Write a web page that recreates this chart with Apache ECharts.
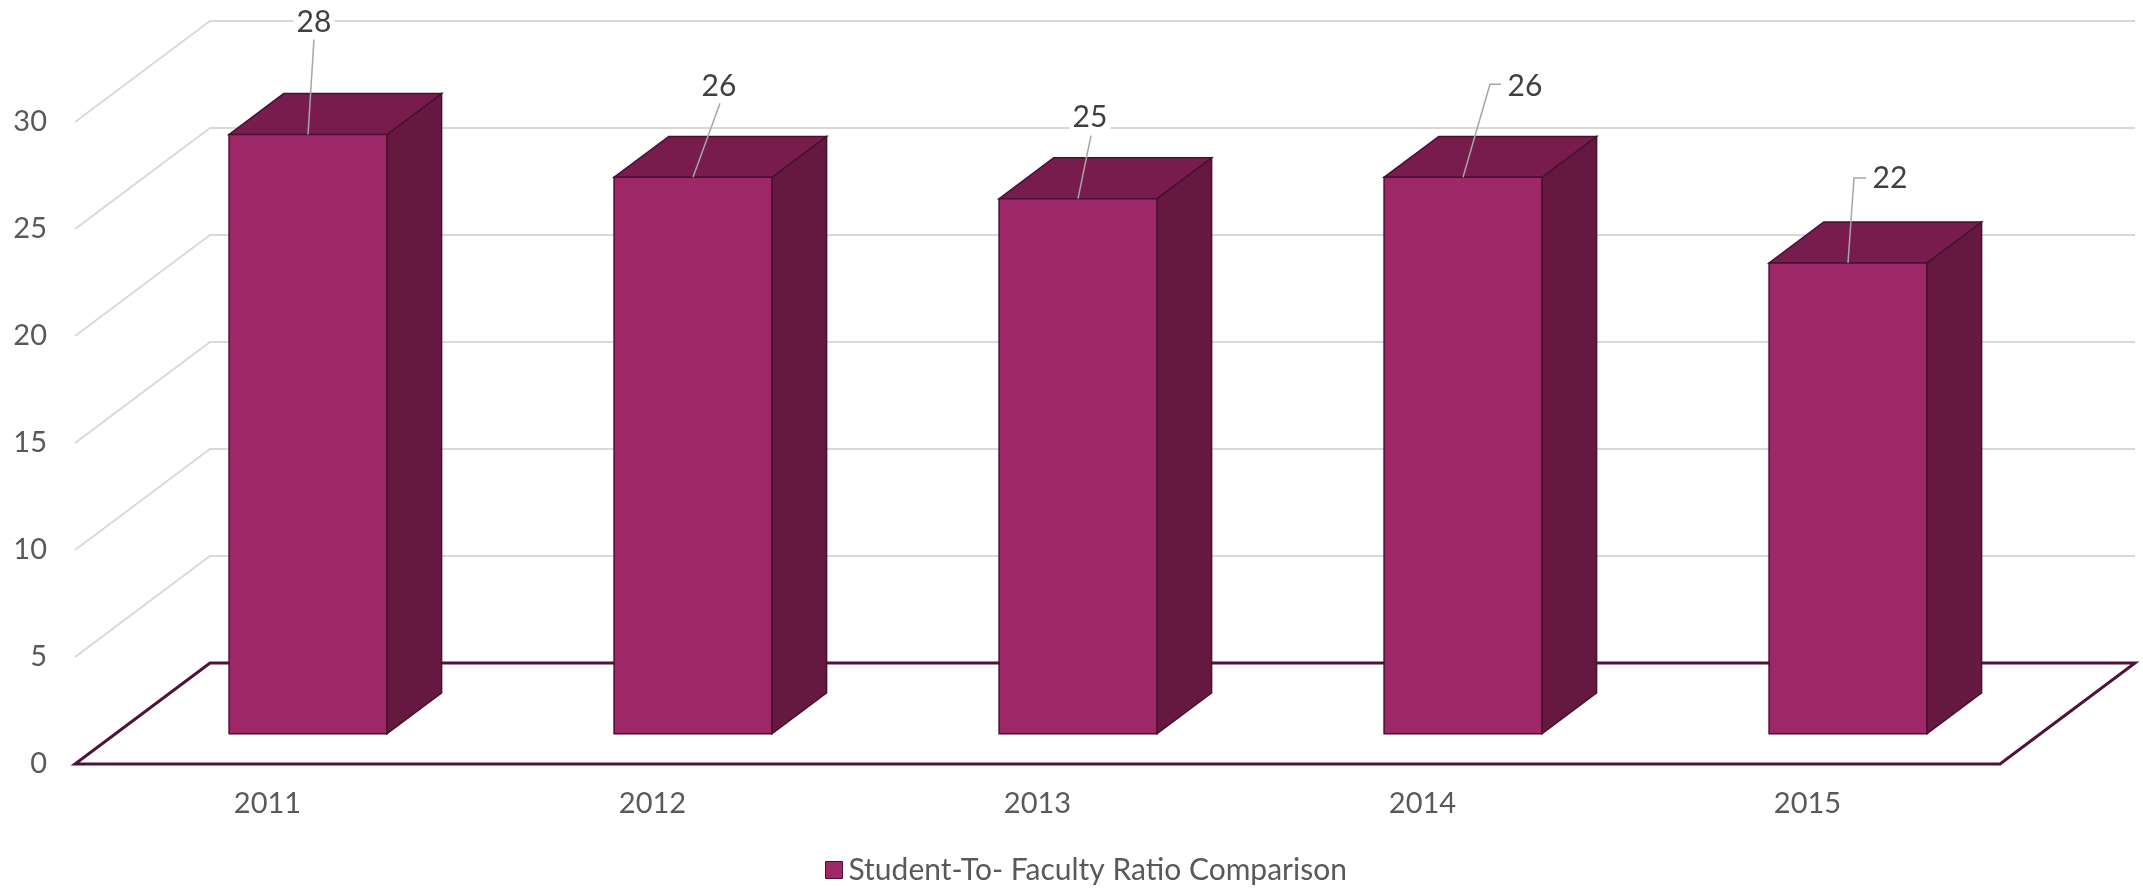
<!DOCTYPE html>
<html>
<head>
<meta charset="utf-8">
<script src="https://cdn.jsdelivr.net/npm/echarts@6/dist/echarts.min.js"></script>
<style>
html,body{margin:0;padding:0;background:#fff;}
#chart{width:2143px;height:888px;}
</style>
</head>
<body>
<div id="chart"></div>
<script>
// ---- data ----
const categories = ['2011', '2012', '2013', '2014', '2015'];
const ratios = [28, 26, 25, 26, 22];
const yTicks = [0, 5, 10, 15, 20, 25, 30];
const seriesName = 'Student-To- Faculty Ratio Comparison';

// ---- styling / layout constants (not data) ----
const DEPTH_X = 135, DEPTH_Y = -101;     // full floor depth offset
const F_FRONT = 0.3, F_BACK = 0.705;     // bar depth range (fraction of floor depth)
const BAR_FRAC = 0.41;                   // bar width as fraction of band
const FONT = 'Lato, "Open Sans", sans-serif';
// label placement relative to the bar's front-top-centre: [labelCx, labelCy, leaderEndX, leaderEndY, tickEndX or null]
const labelLayout = [
  [6, -112, 6, -95, null],
  [26, -91, 27, -74, null],
  [12, -81, 13, -63, null],
  [62, -91, 27, -93, 38],
  [42, -85, 6, -85, 18]
];

const chart = echarts.init(document.getElementById('chart'), null, {renderer: 'canvas'});

function wallsItem(params, api) {
  const cs = params.coordSys;
  const v = api.value(1);
  const p = api.coord([0, v]);
  const x0 = cs.x, y0 = p[1];
  const children = [];
  if (v !== 0) {
    children.push({
      type: 'polyline',
      shape: {points: [[x0, y0], [x0 + DEPTH_X, y0 + DEPTH_Y], [x0 + cs.width + DEPTH_X, y0 + DEPTH_Y]]},
      style: {stroke: '#d9d9d9', lineWidth: 2, fill: null}
    });
  }
  return {type: 'group', children};
}

function floorItem(params, api) {
  const cs = params.coordSys;
  const p = api.coord([0, 0]);
  const y0 = p[1];
  const xl = cs.x, xr = cs.x + cs.width;
  return {
    type: 'polygon',
    shape: {points: [[xl, y0], [xr, y0], [xr + DEPTH_X, y0 + DEPTH_Y], [xl + DEPTH_X, y0 + DEPTH_Y]]},
    style: {stroke: '#4e1338', lineWidth: 3, fill: 'rgba(255,255,255,0)', lineJoin: 'miter'}
  };
}

function barItem(params, api) {
  const idx = api.value(0);
  const v = api.value(1);
  const top = api.coord([idx, v]);
  const base = api.coord([idx, 0]);
  const band = api.size([1, 0])[0];
  const w = band * BAR_FRAC;
  const fx = DEPTH_X * F_FRONT, fy = DEPTH_Y * F_FRONT;
  const ddx = DEPTH_X * (F_BACK - F_FRONT), ddy = DEPTH_Y * (F_BACK - F_FRONT);
  const x0 = top[0] - w / 2 + fx, x1 = top[0] + w / 2 + fx;
  const yT = top[1] + fy, yB = base[1] + fy;
  const edge = '#4a1031';
  const cx = top[0] + fx;
  const L = labelLayout[params.dataIndex];
  const leaderPts = [[cx, yT], [cx + L[2], yT + L[3]]];
  if (L[4] !== null) leaderPts.push([cx + L[4], yT + L[3]]);
  return {
    type: 'group',
    children: [
      {type: 'polygon', shape: {points: [[x1, yT], [x1, yB], [x1 + ddx, yB + ddy], [x1 + ddx, yT + ddy]]},
        style: {fill: '#651941', stroke: edge, lineWidth: 1.5}},
      {type: 'polygon', shape: {points: [[x0, yT], [x1, yT], [x1 + ddx, yT + ddy], [x0 + ddx, yT + ddy]]},
        style: {fill: '#781c4d', stroke: edge, lineWidth: 1.5}},
      {type: 'rect', shape: {x: x0, y: yT, width: x1 - x0, height: yB - yT},
        style: {fill: '#9d2767', stroke: edge, lineWidth: 1.5}},
      {type: 'polyline', shape: {points: leaderPts},
        style: {stroke: '#a6a6a6', lineWidth: 1.5, fill: null}},
      {type: 'text', x: cx + L[0], y: yT + L[1],
        style: {text: String(v), fill: '#404040', font: '30px ' + FONT, align: 'center', verticalAlign: 'middle',
          backgroundColor: '#fff', padding: [0, 3]}}
    ]
  };
}

const option = {
  animation: false,
  backgroundColor: '#fff',
  grid: {left: 75, right: 143, top: 122, bottom: 124, containLabel: false},
  xAxis: {
    type: 'category', data: categories,
    axisLine: {show: false}, axisTick: {show: false}, splitLine: {show: false},
    axisLabel: {color: '#595959', fontSize: 29, fontFamily: FONT, margin: 25, lineHeight: 30}
  },
  yAxis: {
    type: 'value', min: 0, max: 30, interval: 5,
    axisLine: {show: false}, axisTick: {show: false}, splitLine: {show: false},
    axisLabel: {color: '#595959', fontSize: 29, fontFamily: FONT, margin: 28,
      customValues: yTicks}
  },
  legend: {
    show: true, data: [{name: seriesName, icon: 'rect'}],
    left: 820, top: 850, itemWidth: 17, itemHeight: 17, itemGap: 10,
    itemStyle: {borderColor: '#4a1031', borderWidth: 1},
    textStyle: {color: '#595959', fontSize: 30, fontFamily: FONT, padding: [0, 0, 0, 1]}
  },
  series: [
    {type: 'custom', name: '_walls', renderItem: wallsItem, clip: false, silent: true,
      data: yTicks.map(v => [0, v]), encode: {x: 0, y: 1}, z: 1},
    {type: 'custom', name: '_floor', renderItem: floorItem, clip: false, silent: true,
      data: [[0, 0]], encode: {x: 0, y: 1}, z: 2},
    {type: 'custom', name: seriesName, renderItem: barItem, clip: false,
      itemStyle: {color: '#9d2767'},
      data: ratios.map((v, i) => [i, v]), encode: {x: 0, y: 1}, z: 3}
  ]
};
chart.setOption(option);
</script>
</body>
</html>
